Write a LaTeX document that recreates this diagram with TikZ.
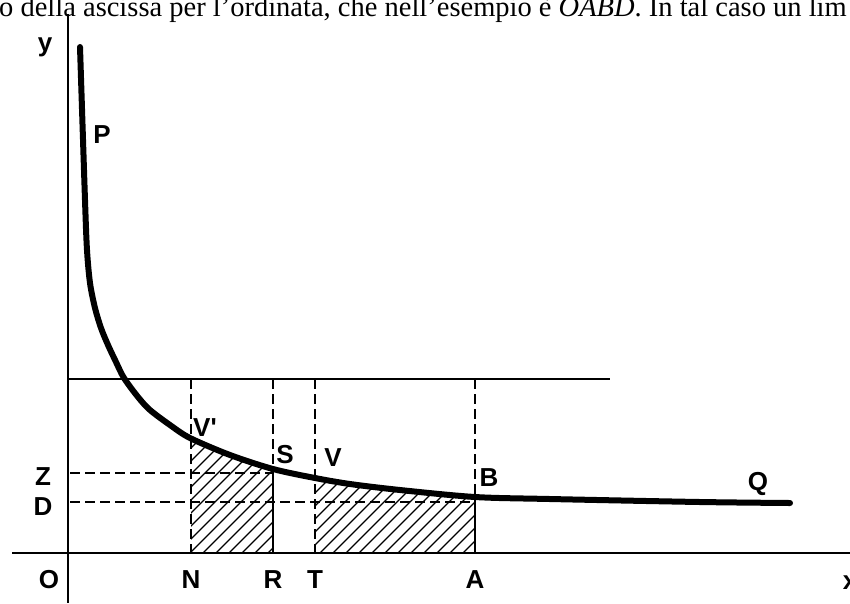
\documentclass[tikz,border=0pt]{standalone}
\usepackage{fontspec}
\setmainfont{Liberation Serif}
\newfontfamily\handfont{Liberation Sans}
\begin{document}
\begin{tikzpicture}[x=1pt,y=-1pt,
  axis/.style={line width=1.8pt},
  thinline/.style={line width=1.5pt},
  dashline/.style={line width=1.3pt, dash pattern=on 10pt off 5pt},
  curve/.style={line width=6pt, line cap=round, line join=round},
  hatch/.style={line width=1.1pt},
  lbl/.style={font=\handfont\bfseries\fontsize{26}{26}\selectfont, inner sep=0pt},
  toptext/.style={font=\fontsize{28.5}{28.5}\selectfont, inner sep=0pt, anchor=base west}]
\useasboundingbox (0,0) rectangle (850,603);
\begin{scope}
\clip (0,0) rectangle (850,603);
% top text (cut off by the edge)
\node[toptext] (txt) at (-1,16) {o della ascissa per l'ordinata, che nell'esempio è \textit{OABD}. In tal caso un lim};
% key points
\coordinate (O) at (68,553);
\coordinate (ytop) at (68,14);
\coordinate (ybot) at (68,603);
\coordinate (xl) at (12,553);
\coordinate (xr) at (850,553);
\coordinate (hl) at (68,379);
\coordinate (hr) at (610,379);
\coordinate (Ntop) at (191,379);
\coordinate (Nbot) at (191,553);
\coordinate (Rtop) at (273,379);
\coordinate (S) at (273,469);
\coordinate (Rbot) at (273,553);
\coordinate (Ttop) at (315,379);
\coordinate (Tbot) at (315,553);
\coordinate (Atop) at (475,379);
\coordinate (B) at (475,497);
\coordinate (Abot) at (475,553);
\coordinate (Zl) at (70,473);
\coordinate (Zr) at (273,473);
\coordinate (Dl) at (70,502);
\coordinate (Dr) at (475,502);
% hatching under the curve
\def\curvepts{(80,47) (85,200) (87,250) (90,283) (95,308) (101,328) (108,345) (116,362) (124,378) (138,397) (150,410) (170,425) (190,438) (230,455) (273,469) (315,478) (350,484) (400,490) (475,497) (550,499) (700,502) (790,503)}
\begin{scope}
\clip plot[smooth] coordinates {\curvepts} -- (790,553) -- (80,553) -- cycle;
\clip (191,380) rectangle (273,553) (315,380) rectangle (475,553);
\foreach \i in {0,13,...,480} \draw[hatch] (60+\i,553) -- ++(130,-130);
\end{scope}
% axes
\draw[axis] (xl) -- (xr);
\draw[axis] (ytop) -- (ybot);
\draw[thinline] (hl) -- (hr);
% dashed lines
\draw[dashline] (Ntop) -- (Nbot);
\draw[dashline] (Rtop) -- (S);
\draw[thinline] (S) -- (Rbot);
\draw[dashline] (Ttop) -- (Tbot);
\draw[dashline] (Atop) -- (B);
\draw[thinline] (B) -- (Abot);
\draw[dashline] (Zl) -- (Zr);
\draw[dashline] (Dl) -- (Dr);
% curve
\draw[curve] plot[smooth] coordinates {\curvepts};
% labels
\node[lbl] (ly) at (45,47) {y};
\node[lbl] (lP) at (102,135) {P};
\node[lbl] (lV1) at (205,428) {V'};
\node[lbl] (lS) at (285,455) {S};
\node[lbl] (lV) at (333,458) {V};
\node[lbl] (lB) at (489,478) {B};
\node[lbl] (lQ) at (758,484) {Q};
\node[lbl] (lZ) at (43,477) {Z};
\node[lbl] (lD) at (43,507) {D};
\node[lbl] (lO) at (49,580) {O};
\node[lbl] (lN) at (191,580) {N};
\node[lbl] (lR) at (273,580) {R};
\node[lbl] (lT) at (315,580) {T};
\node[lbl] (lA) at (475,580) {A};
\node[lbl] (lx) at (850,583) {x};
\end{scope}
\end{tikzpicture}
\end{document}
